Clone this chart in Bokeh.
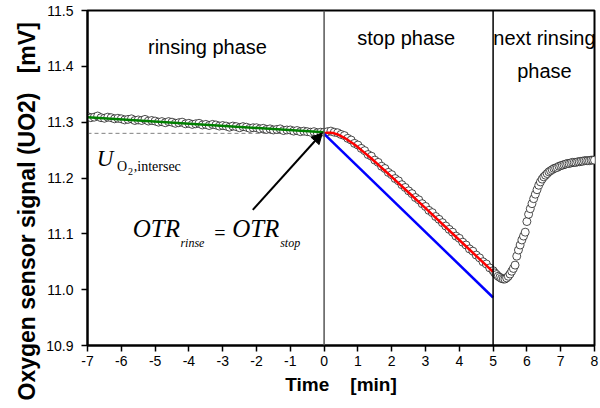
from bokeh.plotting import figure
from bokeh.models import Range1d, FixedTicker, Label, Arrow, NormalHead, Span, NumeralTickFormatter, Title
from bokeh.embed import file_html
from bokeh.resources import INLINE

# ---------------- data ----------------
x_ticks = [-7, -6, -5, -4, -3, -2, -1, 0, 1, 2, 3, 4, 5, 6, 7, 8]
x_tick_labels = ["-7", "-6", "-5", "-4", "-3", "-2", "-1", "0", "1", "2", "3", "4", "5", "6", "7", "8"]
y_ticks = [10.9, 11.0, 11.1, 11.2, 11.3, 11.4, 11.5]
phase_bounds = [0, 5]

rinse_t = [-7.0, -6.9, -6.8, -6.7, -6.6, -6.5, -6.4, -6.3, -6.2, -6.1,
           -6.0, -5.9, -5.8, -5.7, -5.6, -5.5, -5.4, -5.3, -5.2, -5.1,
           -5.0, -4.9, -4.8, -4.7, -4.6, -4.5, -4.4, -4.3, -4.2, -4.1,
           -4.0, -3.9, -3.8, -3.7, -3.6, -3.5, -3.4, -3.3, -3.2, -3.1,
           -3.0, -2.9, -2.8, -2.7, -2.6, -2.5, -2.4, -2.3, -2.2, -2.1,
           -2.0, -1.9, -1.8, -1.7, -1.6, -1.5, -1.4, -1.3, -1.2, -1.1,
           -1.0, -0.9, -0.8, -0.7, -0.6, -0.5, -0.4, -0.3, -0.2, -0.1, 0.0]
rinse_u = [11.310, 11.308, 11.309, 11.311, 11.308, 11.307, 11.309, 11.308, 11.306, 11.307,
           11.306, 11.304, 11.305, 11.306, 11.303, 11.304, 11.303, 11.305, 11.302, 11.303,
           11.302, 11.300, 11.301, 11.299, 11.301, 11.300, 11.298, 11.299, 11.300, 11.297,
           11.298, 11.296, 11.297, 11.298, 11.295, 11.296, 11.294, 11.296, 11.295, 11.293,
           11.294, 11.293, 11.291, 11.293, 11.292, 11.290, 11.292, 11.291, 11.289, 11.290,
           11.290, 11.288, 11.289, 11.287, 11.288, 11.286, 11.287, 11.288, 11.285, 11.286,
           11.286, 11.284, 11.285, 11.283, 11.284, 11.283, 11.282, 11.283, 11.281, 11.282, 11.282]

stop_t = [0.1, 0.2, 0.3, 0.4, 0.5, 0.6, 0.7, 0.8, 0.9, 1.0,
          1.1, 1.2, 1.3, 1.4, 1.5, 1.6, 1.7, 1.8, 1.9, 2.0,
          2.1, 2.2, 2.3, 2.4, 2.5, 2.6, 2.7, 2.8, 2.9, 3.0,
          3.1, 3.2, 3.3, 3.4, 3.5, 3.6, 3.7, 3.8, 3.9, 4.0,
          4.1, 4.2, 4.3, 4.4, 4.5, 4.6, 4.7, 4.8, 4.9, 5.0]
stop_u = [11.283, 11.284, 11.282, 11.281, 11.278, 11.276, 11.271, 11.268, 11.262, 11.259,
          11.253, 11.249, 11.242, 11.239, 11.232, 11.228, 11.221, 11.217, 11.210, 11.206,
          11.199, 11.195, 11.188, 11.183, 11.177, 11.172, 11.165, 11.161, 11.154, 11.149,
          11.142, 11.138, 11.131, 11.126, 11.120, 11.114, 11.108, 11.103, 11.096, 11.092,
          11.085, 11.080, 11.073, 11.069, 11.062, 11.057, 11.050, 11.046, 11.039, 11.034]

next_t = [5.05, 5.10, 5.15, 5.20, 5.25, 5.30, 5.35, 5.40, 5.45, 5.50,
          5.55, 5.60, 5.65, 5.70, 5.75, 5.80, 5.85, 5.90, 5.95, 6.00,
          6.05, 6.10, 6.15, 6.20, 6.25, 6.30, 6.35, 6.40, 6.45, 6.50,
          6.55, 6.60, 6.65, 6.70, 6.75, 6.80, 6.85, 6.90, 6.95, 7.00,
          7.05, 7.10, 7.15, 7.20, 7.25, 7.30, 7.35, 7.40, 7.45, 7.50,
          7.55, 7.60, 7.65, 7.70, 7.75, 7.80, 7.85, 7.90, 7.95, 8.00]
next_u = [11.030, 11.027, 11.024, 11.022, 11.020, 11.019, 11.019, 11.021, 11.024, 11.028,
          11.033, 11.038, 11.044, 11.060, 11.071, 11.080, 11.089, 11.096, 11.103, 11.122,
          11.135, 11.145, 11.154, 11.163, 11.171, 11.179, 11.187, 11.193, 11.198, 11.202,
          11.205, 11.208, 11.211, 11.213, 11.215, 11.217, 11.218, 11.219, 11.221, 11.222,
          11.223, 11.224, 11.225, 11.226, 11.226, 11.227, 11.228, 11.228, 11.228, 11.229,
          11.229, 11.230, 11.230, 11.231, 11.231, 11.231, 11.231, 11.232, 11.232, 11.232]

green_t = [-7.0, 0.0]
green_u = [11.309, 11.282]

red_t = [0.0, 0.1, 0.2, 0.3, 0.4, 0.5, 0.6, 0.7, 0.8, 0.9, 1.0, 1.2, 1.4, 1.6, 1.8, 2.0, 2.5, 3.0, 4.0, 5.0]
red_u = [11.280, 11.281, 11.281, 11.280, 11.278, 11.275, 11.272, 11.268, 11.264, 11.260,
         11.255, 11.245, 11.235, 11.224, 11.213, 11.202, 11.174, 11.146, 11.089, 11.032]

blue_t = [0.0, 5.0]
blue_u = [11.279, 10.986]

intersec_t = [-7.0, 0.0]
intersec_u = [11.280, 11.280]

# ---------------- figure ----------------
SANS = "Liberation Sans"
SERIF = "Liberation Serif"
NB = "\u00a0"

p = figure(width=600, height=408, output_backend="svg", toolbar_location=None,
           x_range=Range1d(-7, 8), y_range=Range1d(10.9, 11.5),
           min_border_left=87, min_border_right=6, min_border_top=10, min_border_bottom=63)
p.xgrid.visible = False
p.ygrid.visible = False
p.outline_line_color = "black"
p.outline_line_width = 2
p.background_fill_color = "white"
p.border_fill_color = "white"

p.xaxis.ticker = FixedTicker(ticks=x_ticks)
p.xaxis.major_label_overrides = {t: s for t, s in zip(x_ticks, x_tick_labels)}
p.yaxis.ticker = FixedTicker(ticks=y_ticks)
p.yaxis.formatter = NumeralTickFormatter(format="0.0")
for ax in (p.xaxis, p.yaxis):
    ax.axis_line_width = 2
    ax.axis_line_color = "black"
    ax.major_tick_line_width = 1.5
    ax.major_tick_line_color = "black"
    ax.major_tick_in = 0
    ax.major_tick_out = 6
    ax.minor_tick_line_color = None
    ax.major_label_text_font = SANS
    ax.major_label_text_font_size = "14px"
    ax.major_label_text_color = "black"
    ax.axis_label_text_font = SANS
    ax.axis_label_text_font_style = "bold"
    ax.axis_label_text_color = "black"

p.xaxis.axis_label = "Time" + NB * 4 + "[min]"
p.xaxis.axis_label_text_font_size = "19px"
p.xaxis.major_label_standoff = 4
p.xaxis.axis_label_standoff = 5
p.yaxis.major_label_standoff = 8

# y axis title, starting below the frame bottom like the reference
p.add_layout(Title(text="Oxygen sensor signal (UO2)" + NB * 3 + "[mV]",
                   align="left", offset=-55, vertical_align="top", standoff=4,
                   text_font=SANS, text_font_size="23px", text_font_style="bold",
                   text_color="black"), "left")

# dashed intersection level
p.line(intersec_t, intersec_u, line_color="#808080", line_width=1, line_dash="4 3")

# measured points
for tt, uu in ((rinse_t, rinse_u), (stop_t, stop_u), (next_t, next_u)):
    p.scatter(tt, uu, marker="circle", size=8, fill_color="white",
              line_color="black", line_width=0.7)

# fits
p.line(green_t, green_u, line_color="#008000", line_width=2.5)
p.line(red_t, red_u, line_color="#ff0000", line_width=2.5)
p.line(blue_t, blue_u, line_color="#0000ff", line_width=2.5)

# phase boundaries
p.add_layout(Span(location=phase_bounds[0], dimension="height", line_color="#555555", line_width=1.5))
p.add_layout(Span(location=phase_bounds[1], dimension="height", line_color="black", line_width=1.5))

def lab(x, y, text, size, font=SANS, style="normal", align="center", baseline="middle"):
    p.add_layout(Label(x=x, y=y, text=text, text_font=font, text_font_size=size,
                       text_font_style=style, text_align=align, text_baseline=baseline,
                       text_color="black"))

# phase labels
lab(-3.45, 11.435, "rinsing phase", "20px")
lab(2.43, 11.45, "stop phase", "20px")
lab(6.52, 11.45, "next rinsing", "20px")
lab(6.52, 11.392, "phase", "20px")

# U_O2,intersec
lab(-6.73, 11.235, "U", "23px", font=SERIF, style="italic", align="left")
lab(-6.13, 11.220, "O", "14px", font=SERIF, align="left")
lab(-5.80, 11.212, "2", "10px", font=SERIF, align="left")
lab(-5.63, 11.220, ",intersec", "14px", font=SERIF, align="left")

# OTR_rinse = OTR_stop
lab(-5.66, 11.109, "OTR", "25px", font=SERIF, style="italic", align="left")
lab(-4.25, 11.083, "rinse", "12px", font=SERIF, style="italic", align="left")
lab(-3.08, 11.102, "=", "20px", font=SERIF, align="center")
lab(-2.72, 11.109, "OTR", "25px", font=SERIF, style="italic", align="left")
lab(-1.30, 11.083, "stop", "12px", font=SERIF, style="italic", align="left")

p.add_layout(Arrow(end=NormalHead(size=11, fill_color="black", line_color="black"),
                   x_start=-2.11, y_start=11.143, x_end=-0.05, y_end=11.281,
                   line_color="black", line_width=2))

open("out.html", "w").write(file_html(p, INLINE))
